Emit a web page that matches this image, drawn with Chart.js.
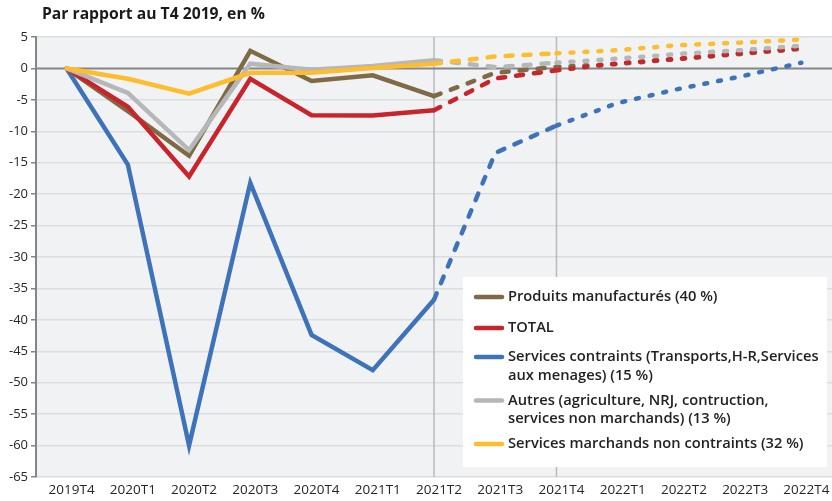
<!DOCTYPE html>
<html><head><meta charset="utf-8">
<script src="https://cdn.jsdelivr.net/npm/chart.js@4"></script>
<style>html,body{margin:0;padding:0;background:#fff}#wrap{width:832px;height:501px;position:relative}</style>
</head><body><div id="wrap"><canvas id="c"></canvas></div>
<script>
// ---- DATA ----
const categories = ['2019T4','2020T1','2020T2','2020T3','2020T4','2021T1','2021T2','2021T3','2021T4','2022T1','2022T2','2022T3','2022T4'];
const produitsManufactures = [0, -6.8, -13.9, 2.8, -2.0, -1.1, -4.4, -0.7, 0.25, 0.7, 1.5, 2.3, 3.1];
const total = [0, -6.1, -17.2, -1.65, -7.45, -7.5, -6.65, -1.6, -0.3, 0.8, 1.55, 2.4, 3.25];
const servicesContraints = [0, -15.3, -60.0, -18.2, -42.4, -48.0, -36.8, -13.45, -9.1, -5.5, -3.25, -1.3, 0.9];
const autres = [0, -3.9, -13.0, 0.75, -0.2, 0.4, 1.3, 0.2, 0.9, 1.55, 2.3, 2.9, 3.6];
const servicesMarchands = [0, -1.65, -4.0, -0.7, -0.7, 0.05, 0.75, 1.9, 2.4, 2.9, 3.7, 4.1, 4.6];
const legendLines = [
  ['Produits manufacturés (40 %)'],
  ['TOTAL'],
  ['Services contraints (Transports,H-R,Services', 'aux menages) (15 %)'],
  ['Autres (agriculture, NRJ, contruction,', 'services non marchands) (13 %)'],
  ['Services marchands non contraints (32 %)']
];
const titleText = 'Par rapport au T4 2019, en %';
const yMin = -65, yMax = 5, yStep = 5;
const dashStartIndex = 6;   // 2021T2 -> dashed
const dotStartIndex = 8;    // 2021T4 -> dotted
const markerCategories = ['2021T2', '2021T4'];

// ---- STYLE ----
const colors = ['#7f6a45', '#c9242b', '#3e73b9', '#b5b7b9', '#fdbd2e'];
const drawOrder = [3, 2, 4, 1, 0];
const seriesValues = [produitsManufactures, total, servicesContraints, autres, servicesMarchands];
const FONT = "'Open Sans', 'Noto Sans', sans-serif";

const datasets = seriesValues.map((vals, i) => ({
  label: legendLines[i].join(' '),
  data: vals,
  borderColor: colors[i],
  backgroundColor: colors[i],
  borderWidth: 4.5,
  pointRadius: 0,
  pointHoverRadius: 0,
  tension: 0,
  fill: false,
  order: drawOrder[i],
  borderJoinStyle: 'miter',
  borderCapStyle: 'round',
  segment: {
    borderDash: ctx => ctx.p0DataIndex >= dotStartIndex ? [3, 11] : (ctx.p0DataIndex >= dashStartIndex ? [7, 11] : undefined)
  }
}));

const bgPlugin = {
  id: 'bg',
  beforeDraw(chart) {
    const {ctx, chartArea: a} = chart;
    ctx.save();
    ctx.fillStyle = '#f1f2f4';
    ctx.fillRect(a.left, a.top, a.right - a.left, a.bottom - a.top);
    ctx.restore();
  },
  beforeDatasetsDraw(chart) {
    const {ctx, chartArea: a, scales} = chart;
    ctx.save();
    ctx.strokeStyle = '#b9babc';
    ctx.lineWidth = 1.5;
    markerCategories.forEach(c => {
      const x = scales.x.getPixelForValue(categories.indexOf(c));
      ctx.beginPath(); ctx.moveTo(x, a.top); ctx.lineTo(x, a.bottom); ctx.stroke();
    });
    const y0 = scales.y.getPixelForValue(0);
    ctx.strokeStyle = '#858585';
    ctx.lineWidth = 2;
    ctx.beginPath(); ctx.moveTo(a.left, y0); ctx.lineTo(a.right, y0); ctx.stroke();
    ctx.restore();
  },
  afterDraw(chart) {
    const {ctx, chartArea: a} = chart;
    ctx.save();
    ctx.fillStyle = '#1a1a1a';
    ctx.font = "bold 15.7px " + FONT;
    ctx.textBaseline = 'middle';
    ctx.textAlign = 'left';
    ctx.fillText(titleText, 42, 15);
    const bx = a.right - 369, by = a.bottom - 200, bw = 364, bh = 190;
    ctx.fillStyle = '#ffffff';
    ctx.fillRect(bx, by, bw, bh);
    const rows = [[20], [51], [80, 99], [123.5, 141.5], [167]];
    ctx.font = "600 14.7px " + FONT;
    rows.forEach((ys, i) => {
      ctx.strokeStyle = colors[i];
      ctx.lineWidth = 4.5;
      ctx.lineCap = 'round';
      ctx.beginPath();
      ctx.moveTo(bx + 13, by + ys[0]); ctx.lineTo(bx + 39, by + ys[0]);
      ctx.stroke();
      ctx.fillStyle = '#222222';
      legendLines[i].forEach((t, j) => ctx.fillText(t, bx + 45, by + ys[j]));
    });
    ctx.restore();
  }
};

new Chart(document.getElementById('c'), {
  type: 'line',
  data: { labels: categories, datasets },
  options: {
    responsive: true,
    maintainAspectRatio: false,
    animation: false,
    events: [],
    layout: { padding: { top: 37, right: 0, left: 0, bottom: 0 } },
    plugins: { legend: { display: false }, title: { display: false }, tooltip: { enabled: false } },
    scales: {
      x: {
        offset: true,
        grid: { display: false, drawTicks: false },
        border: { display: false },
        ticks: { color: '#262626', font: { family: FONT, size: 13.5 }, padding: 5, labelOffset: 5, maxRotation: 0, autoSkip: false },
        afterFit(s) { s.height = 24; }
      },
      y: {
        min: yMin, max: yMax,
        grid: {
          color: ctx => ctx.tick && ctx.tick.value === 0 ? 'rgba(0,0,0,0)' : '#dcdde0',
          lineWidth: 1.5,
          tickLength: 5,
          tickColor: '#858585'
        },
        border: { display: true, color: '#858585', width: 2 },
        ticks: { stepSize: yStep, color: '#262626', font: { family: FONT, size: 13 }, padding: 3 },
        afterFit(s) { s.width = 36; }
      }
    }
  },
  plugins: [bgPlugin]
});
</script>
</body></html>
